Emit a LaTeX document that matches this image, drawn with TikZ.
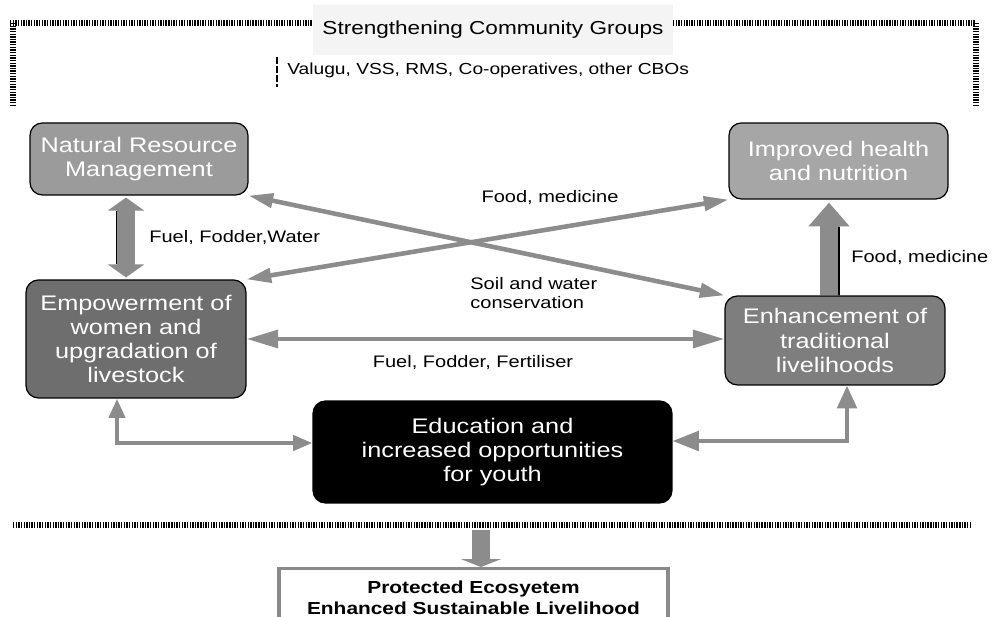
\documentclass[tikz,border=0pt]{standalone}
\usepackage{fontspec}
\setmainfont{Liberation Sans}[FakeStretch=1.2]
\usetikzlibrary{arrows.meta,calc}

\definecolor{nrmgrey}{HTML}{9B9B9B}
\definecolor{healthgrey}{HTML}{A6A6A6}
\definecolor{empgrey}{HTML}{6E6E6E}
\definecolor{enhgrey}{HTML}{7E7E7E}
\definecolor{arrowgrey}{HTML}{8C8C8C}
\definecolor{titlegrey}{HTML}{F4F4F4}
\definecolor{goalgrey}{HTML}{8A8A8A}

\begin{document}
\begin{tikzpicture}[x=0.02cm, y=-0.02cm,
        stage/.style={draw=black, line width=0.7pt, rounded corners=7pt, text=white,
            align=center, inner sep=0pt, font=\fontsize{12}{13.8}\selectfont},
        flowtext/.style={inner sep=0pt, font=\fontsize{9.5}{10.8}\selectfont},
        link/.style={draw=arrowgrey, line width=2.6pt},
        blockarrow/.style={draw=arrowgrey, line width=10.8pt},
        fence/.style={line width=3.2pt, dash pattern=on 0.8pt off 0.7pt}]

        \useasboundingbox (0, 0) rectangle (994, 617);
        \fill[white] (0, 0) rectangle (994, 617);
        \clip (0, 0) rectangle (994, 617);

        \node[fill=titlegrey, minimum width=7.2cm, minimum height=1cm, font=\fontsize{10.7}{12}\selectfont] (title) at (493, 30) {Strengthening Community Groups};
        \node[anchor=west, inner sep=0pt, font=\fontsize{9.1}{11}\selectfont] (groups) at (287, 70) {Valugu, VSS, RMS, Co-operatives, other CBOs};
        \draw[line width=0.8pt, dash pattern=on 4pt off 1.2pt] (277, 57) -- (277, 87);

        \draw[fence] (10, 23) -- (313, 23);
        \draw[fence] (673, 23) -- (976, 23);
        \draw[fence] (13, 23) -- (13, 107);
        \draw[fence] (976, 23) -- (976, 107);
        \draw[fence] (13, 525) -- (972, 525);

        \node[stage, fill=nrmgrey, minimum width=4.36cm, minimum height=1.44cm] (nrm) at (139, 159) {Natural Resource\\Management};
        \node[stage, fill=healthgrey, minimum width=4.38cm, minimum height=1.52cm] (health) at (838.5, 161) {Improved health\\and nutrition};
        \node[stage, fill=empgrey, minimum width=4.4cm, minimum height=2.36cm] (emp) at (136, 339) {Empowerment of\\women and\\upgradation of\\livestock};
        \node[stage, fill=enhgrey, minimum width=4.4cm, minimum height=1.78cm] (enh) at (835, 340.5) {Enhancement of\\traditional\\livelihoods};
        \node[stage, fill=black, minimum width=7.18cm, minimum height=2.04cm] (edu) at (492.5, 452) {Education and\\increased opportunities\\for youth};

        \node[draw=goalgrey, line width=1.8pt, fill=white, anchor=north, minimum width=7.78cm, inner ysep=7pt, align=center, font=\bfseries\fontsize{9.9}{12}\selectfont] (goal) at (473.5, 567) {Protected Ecosyetem\\Enhanced Sustainable Livelihood};

        \draw[blockarrow, {Triangle[length=7.4pt, width=20.4pt]}-{Triangle[length=7.4pt, width=20.4pt]}] ($(nrm.south)+(-13, 2)$) -- ($(emp.north)+(-10, -2)$);
        \draw[line width=1pt] ($(nrm.south)+(-22.5, 15)$) -- ($(emp.north)+(-19.5, -15)$);

        \draw[blockarrow, -{Triangle[length=13.6pt, width=22.7pt]}] ($(enh.north)+(-6, 0)$) -- ($(health.south)+(-9.5, 3)$);
        \draw[line width=1pt] ($(enh.north)+(4, 0)$) -- ($(health.south)+(0.5, 27)$);

        \coordinate (drop) at (481, 530);
        \draw[blockarrow, -{Triangle[length=4.5pt, width=22.7pt]}] (drop) -- (drop |- goal.north);

        \draw[link, {Triangle[length=14pt, width=8pt]}-{Triangle[length=14pt, width=8pt]}] (nrm.south east) -- (enh.north west);
        \draw[link, {Triangle[length=14pt, width=8pt]}-{Triangle[length=14pt, width=8pt]}] (emp.north east) -- (health.south west);
        \draw[link, {Triangle[length=18pt, width=10pt]}-{Triangle[length=18pt, width=10pt]}] (emp.east) -- (emp.east -| enh.west);
        \draw[link, {Triangle[length=11pt, width=9pt]}-{Triangle[length=11pt, width=8.5pt]}] ($(emp.south)+(-19, 0)$) |- ($(edu.west)+(0, -9)$);
        \draw[link, {Triangle[length=15pt, width=11pt]}-{Triangle[length=13pt, width=11pt]}] ($(edu.east)+(0, -11)$) -| ($(enh.south)+(12, 0)$);

        \node[flowtext, anchor=west] (fuelwater) at (149, 238) {Fuel, Fodder,Water};
        \node[flowtext] (foodcross) at (550, 198) {Food, medicine};
        \node[flowtext, anchor=west, align=left] (soil) at (470, 293.5) {Soil and water\\conservation};
        \node[flowtext] (fertiliser) at (473, 363) {Fuel, Fodder, Fertiliser};
        \node[flowtext, anchor=west] (foodup) at (851, 258) {Food, medicine};

    \end{tikzpicture}
\end{document}
